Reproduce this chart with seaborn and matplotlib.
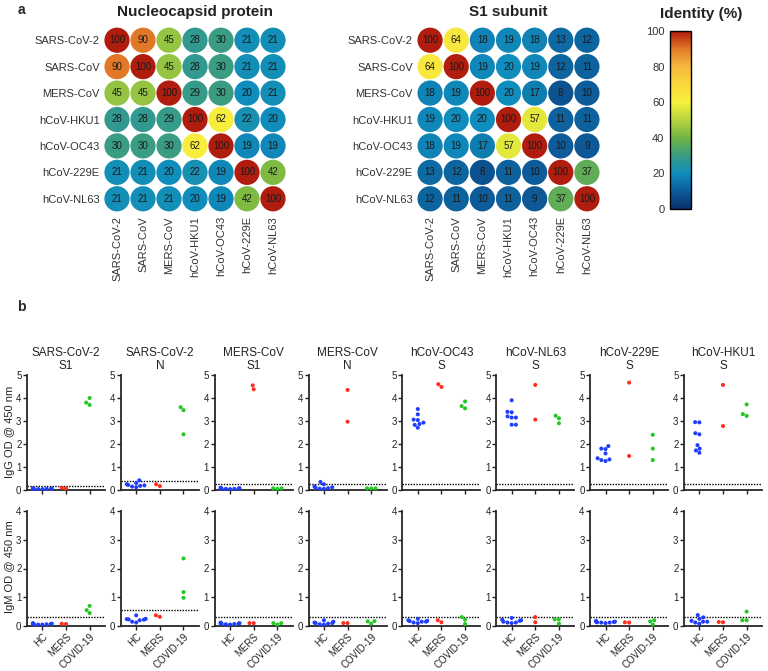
import numpy as np
import pandas as pd
import seaborn as sns
import matplotlib.pyplot as plt
from matplotlib.colors import LinearSegmentedColormap, Normalize
from matplotlib.cm import ScalarMappable

# ---- data: sequence identity (%) ----
viruses = ['SARS-CoV-2', 'SARS-CoV', 'MERS-CoV', 'hCoV-HKU1', 'hCoV-OC43', 'hCoV-229E', 'hCoV-NL63']

identity_n = [
    [100, 90, 45, 28, 30, 21, 21],
    [90, 100, 45, 28, 30, 21, 21],
    [45, 45, 100, 29, 30, 20, 21],
    [28, 28, 29, 100, 62, 22, 20],
    [30, 30, 30, 62, 100, 19, 19],
    [21, 21, 20, 22, 19, 100, 42],
    [21, 21, 21, 20, 19, 42, 100],
]
identity_s1 = [
    [100, 64, 18, 19, 18, 13, 12],
    [64, 100, 19, 20, 19, 12, 11],
    [18, 19, 100, 20, 17, 8, 10],
    [19, 20, 20, 100, 57, 11, 11],
    [18, 19, 17, 57, 100, 10, 9],
    [13, 12, 8, 11, 10, 100, 37],
    [12, 11, 10, 11, 9, 37, 100],
]

# ---- data: ELISA OD values ----
groups = ['HC', 'MERS', 'COVID-19']
antigens = ['SARS-CoV-2\nS1', 'SARS-CoV-2\nN', 'MERS-CoV\nS1', 'MERS-CoV\nN',
            'hCoV-OC43\nS', 'hCoV-NL63\nS', 'hCoV-229E\nS', 'hCoV-HKU1\nS']

igg_hc = [
    [0.05, 0.06, 0.04, 0.05, 0.07, 0.05, 0.06, 0.04],
    [0.42, 0.30, 0.25, 0.20, 0.18, 0.15, 0.22, 0.12],
    [0.10, 0.08, 0.06, 0.05, 0.07, 0.04, 0.05, 0.06],
    [0.35, 0.25, 0.15, 0.10, 0.08, 0.06, 0.05, 0.12],
    [2.93, 2.71, 3.52, 3.29, 3.04, 2.87, 3.06, 2.83],
    [3.90, 3.40, 3.38, 3.20, 3.15, 3.15, 2.84, 2.84],
    [1.91, 1.80, 1.78, 1.59, 1.38, 1.26, 1.30, 1.33],
    [2.94, 2.95, 2.42, 2.47, 1.95, 1.80, 1.62, 1.72],
]
igg_mers = [[0.07, 0.10], [0.17, 0.25], [4.55, 4.38], [4.35, 2.97],
            [4.60, 4.48], [4.57, 3.06], [4.67, 1.48], [4.57, 2.78]]
igg_covid = [[3.70, 4.00, 3.80], [3.60, 3.47, 2.42], [0.05, 0.07, 0.07], [0.07, 0.07, 0.07],
             [3.55, 3.85, 3.65], [3.23, 3.12, 2.90], [2.40, 1.80, 1.30], [3.72, 3.22, 3.30]]
igg_cutoff = [0.17, 0.38, 0.25, 0.27, 0.28, 0.28, 0.28, 0.28]

igm_hc = [
    [0.10, 0.08, 0.06, 0.05, 0.07, 0.05, 0.06, 0.08],
    [0.37, 0.25, 0.24, 0.22, 0.20, 0.15, 0.12, 0.23],
    [0.12, 0.10, 0.08, 0.07, 0.06, 0.05, 0.09, 0.08],
    [0.20, 0.15, 0.12, 0.10, 0.08, 0.06, 0.10, 0.05],
    [0.25, 0.20, 0.18, 0.15, 0.15, 0.12, 0.10, 0.17],
    [0.28, 0.22, 0.20, 0.15, 0.12, 0.12, 0.10, 0.18],
    [0.18, 0.15, 0.14, 0.13, 0.12, 0.10, 0.15, 0.12],
    [0.38, 0.30, 0.25, 0.15, 0.15, 0.12, 0.08, 0.18],
]
igm_mers = [[0.07, 0.08], [0.32, 0.37], [0.10, 0.10], [0.10, 0.10],
            [0.13, 0.20], [0.31, 0.13], [0.12, 0.13], [0.13, 0.14]]
igm_covid = [[0.45, 0.70, 0.55], [2.35, 1.18, 0.98], [0.05, 0.10, 0.10], [0.08, 0.17, 0.16],
             [0.31, 0.07, 0.22], [0.23, 0.08, 0.23], [0.20, 0.05, 0.16], [0.50, 0.20, 0.20]]
igm_cutoff = [0.30, 0.55, 0.30, 0.30, 0.30, 0.30, 0.30, 0.30]

group_colors = {'HC': '#1f3dff', 'MERS': '#ff2d1e', 'COVID-19': '#22c722'}

sns.set_style('ticks')
plt.rcParams['font.family'] = ['Liberation Sans', 'DejaVu Sans']

W, H = 768, 671
fig = plt.figure(figsize=(W / 100, H / 100), dpi=100)

def px(x0, y0, w, h):
    # pixel box (top-left origin) -> figure fraction
    return [x0 / W, 1 - (y0 + h) / H, w / W, h / H]

# identity colormap
cmap = LinearSegmentedColormap.from_list('identity', [
    (0.00, '#0b2f6e'), (0.10, '#0d5c99'), (0.20, '#0f8dbc'), (0.30, '#3a9c82'),
    (0.40, '#72b444'), (0.50, '#b6d340'), (0.60, '#f8f13c'), (0.70, '#f9d83c'),
    (0.80, '#f6b83d'), (0.90, '#e27a28'), (1.00, '#b01c0e')])
norm = Normalize(0, 100)

# ---- panel a: identity matrices ----
def circle_matrix(ax, mat, title):
    df = pd.DataFrame(mat, index=viruses, columns=viruses).stack().reset_index()
    df.columns = ['row', 'col', 'identity']
    df['xi'] = df['col'].map({v: i for i, v in enumerate(viruses)})
    df['yi'] = df['row'].map({v: i for i, v in enumerate(viruses)})
    sns.scatterplot(data=df, x='xi', y='yi', hue='identity', palette=cmap, hue_norm=norm,
                    s=330, linewidth=0, legend=False, ax=ax)
    for _, r in df.iterrows():
        ax.text(r['xi'], r['yi'], str(r['identity']), ha='center', va='center',
                fontsize=7, color='#1a1a1a')
    ax.set_xlim(-0.5, 6.5)
    ax.set_ylim(6.5, -0.5)
    ax.set_xticks(range(7))
    ax.set_yticks(range(7))
    ax.set_xticklabels(viruses, rotation=90, fontsize=8, color='#333333')
    ax.set_yticklabels(viruses, fontsize=8, color='#333333')
    ax.tick_params(length=0, pad=3)
    ax.set_xlabel('')
    ax.set_ylabel('')
    for s in ax.spines.values():
        s.set_visible(False)
    ax.set_title(title, fontsize=11, fontweight='bold', pad=8, color='#222222')

ax_n = fig.add_axes(px(104, 27, 182, 185))
circle_matrix(ax_n, identity_n, 'Nucleocapsid protein')
ax_s = fig.add_axes(px(417, 27, 183, 185))
circle_matrix(ax_s, identity_s1, 'S1 subunit')

cax = fig.add_axes(px(670, 31, 21, 178))
cb = fig.colorbar(ScalarMappable(norm=norm, cmap=cmap), cax=cax, ticks=range(0, 101, 20))
cax.yaxis.set_ticks_position('left')
cax.tick_params(length=0, labelsize=8, pad=4, colors='#333333')
cb.outline.set_linewidth(1)
cb.outline.set_edgecolor('black')
fig.text(701 / W, 1 - 14 / H, 'Identity (%)', ha='center', va='center',
         fontsize=11, fontweight='bold', color='#222222')

fig.text(21 / W, 1 - 10 / H, 'a', ha='center', va='center', fontsize=10, fontweight='bold')
fig.text(21 / W, 1 - 307 / H, 'b', ha='center', va='center', fontsize=10, fontweight='bold')

# ---- panel b: ELISA dot plots ----
def dot_panel(ax, hc, mers, covid, cutoff, ymax, bottom_row):
    df = pd.DataFrame({
        'group': ['HC'] * len(hc) + ['MERS'] * len(mers) + ['COVID-19'] * len(covid),
        'od': hc + mers + covid,
    })
    sns.swarmplot(data=df, x='group', y='od', hue='group', order=groups, hue_order=groups,
                  palette=group_colors, size=2.9, linewidth=0, legend=False,
                  warn_thresh=1, clip_on=False, ax=ax)
    ax.axhline(cutoff, color='black', lw=1, ls=(0, (1, 1)), zorder=0)
    ax.set_xlim(-0.65, 2.65)
    ax.set_ylim(0, ymax)
    ax.set_yticks(range(0, ymax + 1))
    ax.set_xlabel('')
    ax.set_ylabel('')
    sns.despine(ax=ax)
    for s in ['left', 'bottom']:
        ax.spines[s].set_linewidth(1.3)
    ax.tick_params(length=3, width=1, labelsize=7, pad=1, colors='#222222')
    ax.set_xticks(range(3))
    if bottom_row:
        ax.set_xticklabels(groups, rotation=45, ha='right', rotation_mode='anchor', fontsize=7)
    else:
        ax.set_xticklabels([])

step = (684 - 27) / 7
for i in range(8):
    left = 27 + i * step
    ax_g = fig.add_axes(px(left, 375, 78, 115))
    dot_panel(ax_g, igg_hc[i], igg_mers[i], igg_covid[i], igg_cutoff[i], 5, False)
    ax_g.set_title(antigens[i], fontsize=8.5, pad=4, linespacing=1.15, color='#222222')
    ax_m = fig.add_axes(px(left, 511, 78, 115))
    dot_panel(ax_m, igm_hc[i], igm_mers[i], igm_covid[i], igm_cutoff[i], 4, True)

fig.text(10 / W, 1 - 432 / H, 'IgG OD @ 450 nm', rotation=90, ha='center', va='center', fontsize=8)
fig.text(10 / W, 1 - 567 / H, 'IgM OD @ 450 nm', rotation=90, ha='center', va='center', fontsize=8)

fig.savefig('out.png', dpi=100)
